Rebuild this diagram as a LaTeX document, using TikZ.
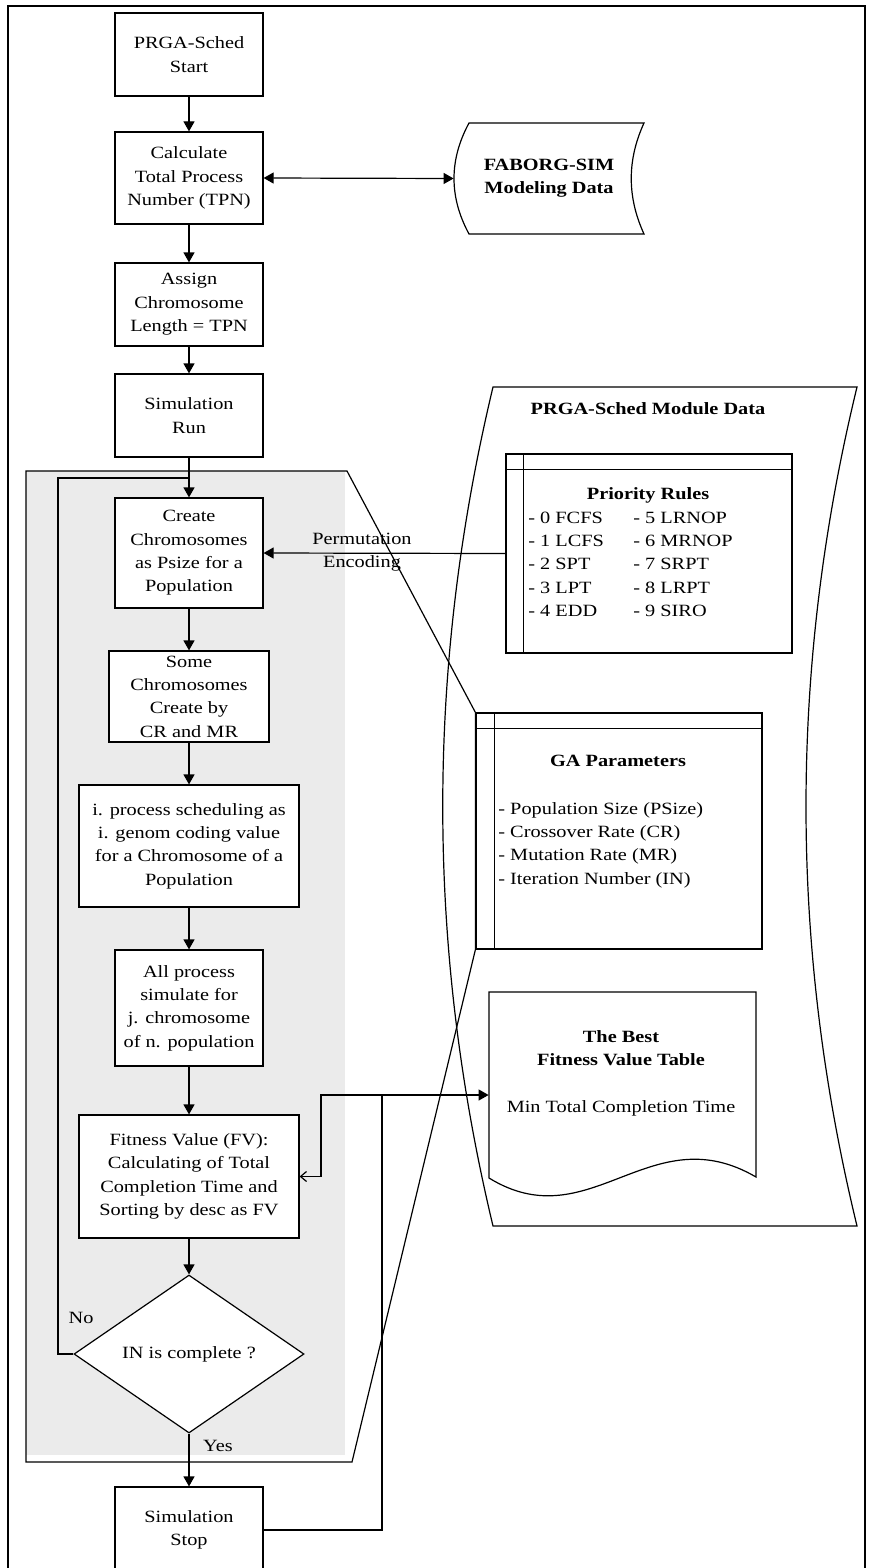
\documentclass[tikz,border=0pt]{standalone}
\usepackage{fontspec}
\setmainfont{Liberation Serif}[FakeStretch=1.18]
\usetikzlibrary{arrows.meta,shapes.geometric,calc}
\definecolor{panelgray}{RGB}{235,235,235}
\newcommand{\fsz}{\fontsize{8.6}{11.7}\selectfont}
\begin{document}
\begin{tikzpicture}[x=0.5pt,y=-0.5pt, font=\fsz,
  box/.style={draw, fill=white, line width=0.6pt, inner sep=0pt, align=center},
  sz/.style 2 args={minimum width=#1*0.5pt, minimum height=#2*0.5pt},
  flow/.style={line width=0.6pt, -{Triangle[length=5pt,width=5.5pt]}},
  thinln/.style={line width=0.6pt},
  lbl/.style={inner sep=0pt, align=center}]

\useasboundingbox (0,0) rectangle (872,1568);
\fill[white] (0,0) rectangle (872,1568);

% outer frame (bottom runs off the page)
\draw[line width=1.1pt] (8,1600) -- (8,6) -- (865,6) -- (865,1600);

% gray panel
\fill[panelgray] (26,471) rectangle (345,1455);

% module data shape
\draw[thinln] (493,387) -- (857,387) .. controls (789,667) and (789,946) .. (857,1226)
  -- (493,1226) .. controls (426,946) and (426,667) .. (493,387) -- cycle;

% FABORG stored data shape
\draw[thinln, fill=white] (469,123) -- (644,123) .. controls (627,160) and (627,197) .. (644,234)
  -- (469,234) .. controls (449,197) and (449,160) .. (469,123) -- cycle;
\node[lbl, font=\fsz\bfseries, minimum width=95pt, minimum height=55.5pt] (fab) at (549,178.5) {FABORG-SIM\\Modeling Data};

% main flow
\node[box, sz={148}{83}] (start) at (189,54.5) {PRGA-Sched\\Start};
\node[box, sz={148}{92}] (calc) at (189,178) {Calculate\\Total Process\\Number (TPN)};
\node[box, sz={148}{83}] (assign) at (189,304.5) {Assign\\Chromosome\\Length = TPN};
\node[box, sz={148}{83}] (run) at (189,415.5) {Simulation\\Run};
\node[box, sz={148}{110}] (create) at (189,553) {Create\\Chromosomes\\as Psize for a\\Population};
\node[box, sz={160}{91}] (some) at (189,696.5) {Some\\Chromosomes\\Create by\\CR and MR};
\node[box, sz={220}{122}] (iproc) at (189,846) {i. process scheduling as\\i. genom coding value\\for a Chromosome of a\\Population};
\node[box, sz={148}{116}] (allp) at (189,1008) {All process\\simulate for\\j. chromosome\\of n. population};
\node[box, sz={220}{123}] (fit) at (189,1176.5) {Fitness Value (FV):\\Calculating of Total\\Completion Time and\\Sorting by desc as FV};
\node[box, diamond, aspect=1.46, sz={230}{158}] (dia) at (189,1354) {IN is complete ?};
\node[box, sz={148}{86}] (stop) at (189,1530) {Simulation\\Stop};

% module contents
\node[lbl, font=\fsz\bfseries] (modt) at (648,409) {PRGA-Sched Module Data};

\node[draw, thinln, fill=white, sz={286}{199}] (prio) at (649,553.5) {};
\draw[thinln] ($(prio.north west)+(18,0)$) -- ($(prio.south west)+(18,0)$);
\draw[thinln] ($(prio.north west)+(0,16)$) -- ($(prio.north east)+(0,16)$);
\node[lbl, font=\fsz\bfseries] (priot) at (648,495) {Priority Rules};
\node[inner sep=0pt, anchor=base west] (priol) at (528,523) {\begin{tabular}[t]{@{}p{52.5pt}@{}l@{}}
- 0 FCFS & - 5 LRNOP\\
- 1 LCFS & - 6 MRNOP\\
- 2 SPT & - 7 SRPT\\
- 3 LPT & - 8 LRPT\\
- 4 EDD & - 9 SIRO
\end{tabular}};

\node[draw, thinln, fill=white, sz={286}{236}] (ga) at (619,831) {};
\draw[thinln] ($(ga.north west)+(19,0)$) -- ($(ga.south west)+(19,0)$);
\draw[thinln] ($(ga.north west)+(0,16)$) -- ($(ga.north east)+(0,16)$);
\node[lbl, font=\fsz\bfseries] (gat) at (618,761) {GA Parameters};
\node[inner sep=0pt, anchor=base west] (gal) at (498,814) {\begin{tabular}[t]{@{}l@{}}
- Population Size (PSize)\\
- Crossover Rate (CR)\\
- Mutation Rate (MR)\\
- Iteration Number (IN)
\end{tabular}};

% fitness value table (document shape)
\node[inner sep=0pt, sz={267}{186}] (fdoc) at (622.5,1085) {};
\draw[thinln, fill=white] (489,1178) -- (489,992) -- (756,992) -- (756,1177)
  .. controls (650,1115) and (590,1240) .. (489,1178) -- cycle;
\node[lbl] (fdt) at (621,1073) {\textbf{The Best}\\\textbf{Fitness Value Table}\\[11.7pt]Min Total Completion Time};

% gray panel outline polygon
\draw[thinln] (26,471) -- (347,471) -- (ga.north west) -- (ga.south west) -- (352,1462) -- (26,1462) -- cycle;

% labels
\node[lbl] (perm) at (362,552) {Permutation\\Encoding};
\node[lbl] (nol) at (81,1318) {No};
\node[lbl] (yesl) at (218,1446) {Yes};

% connectors
\draw[flow] (start) -- (calc);
\draw[thinln, {Triangle[length=5pt,width=5.5pt]}-{Triangle[length=5pt,width=5.5pt]}] (calc.east) -- (fab.west);
\draw[flow] (calc) -- (assign);
\draw[flow] (assign) -- (run);
\draw[flow] (run) -- (create);
\draw[flow] (prio.west) -- (create.east);
\draw[flow] (create) -- (some);
\draw[flow] (some) -- (iproc);
\draw[flow] (iproc) -- (allp);
\draw[flow] (allp) -- (fit);
\draw[flow] (fit) -- (dia);
\draw[flow] (dia) -- (stop);
\coordinate (loopc) at (58,478);
\draw[thinln] (dia.west) -| (loopc) -- (loopc -| create.north);
\coordinate (jn) at (382,1095);
\coordinate (bendc) at (321,1095);
\draw[thinln, {Straight Barb[length=3pt,width=5pt]}-{Triangle[length=5pt,width=5.5pt]}] (fit.east) -| (bendc) -- (jn -| fdoc.west);
\draw[thinln] (stop.east) -| (jn);
\end{tikzpicture}
\end{document}
